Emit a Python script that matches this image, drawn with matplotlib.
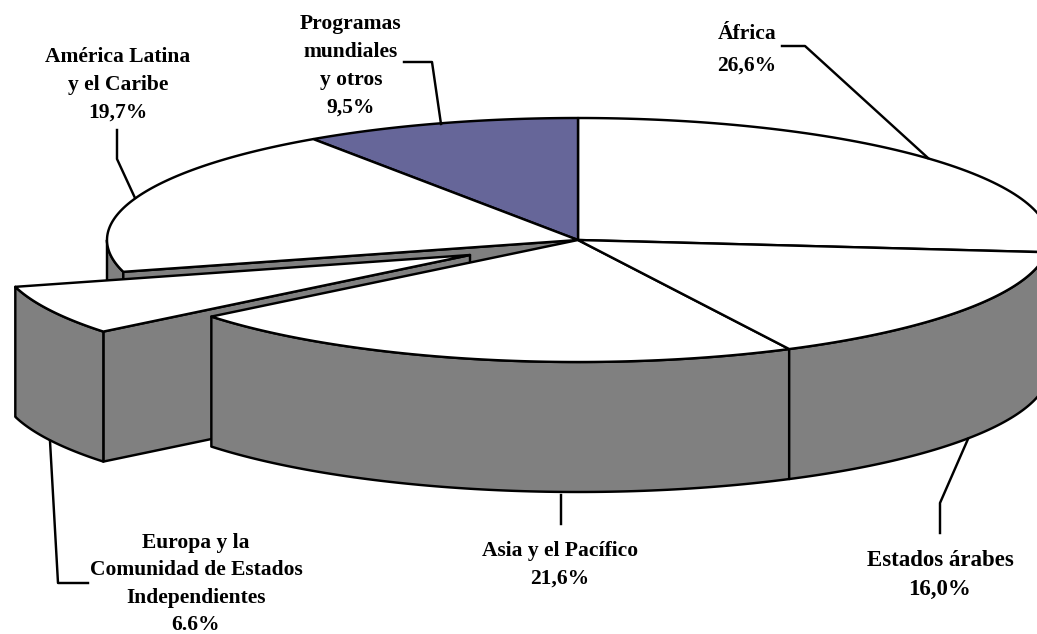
import numpy as np
import matplotlib
matplotlib.use("Agg")
import matplotlib.pyplot as plt
from matplotlib.patches import Polygon

plt.rcParams['font.family'] = ['Liberation Serif', 'DejaVu Serif']

# Data, clockwise from 12 o'clock
regions = ["Africa", "Arabes", "Asia", "Europa", "America", "Programas"]
shares = [26.6, 16.0, 21.6, 6.6, 19.7, 9.5]
labels = ["África\n26,6%", "Estados árabes\n16,0%", "Asia y el Pacífico\n21,6%",
          "Europa y la\nComunidad de Estados\nIndependientes\n6.6%",
          "América Latina\ny el Caribe\n19,7%", "Programas\nmundiales\ny otros\n9,5%"]

# Pie geometry in pixels
cx, cy = 578, 240
rx, ry = 471, 122
depth = 130
explode = {"Europa": (-108, 15)}
GREY = "#808080"
PURPLE = "#666699"
LW = 1.75

edges = np.cumsum([0] + shares) / 100 * 2 * np.pi
angles = {r: (edges[i], edges[i + 1]) for i, r in enumerate(regions)}

fig = plt.figure(figsize=(10.37, 6.34), dpi=100)
ax = fig.add_axes([0, 0, 1, 1])
ax.set_xlim(0, 1037)
ax.set_ylim(634, 0)
ax.axis("off")


def arc(a0, a1, dx=0, dy=0):
    t = np.linspace(a0, a1, 80)
    return np.column_stack([cx + dx + rx * np.sin(t), cy + dy - ry * np.cos(t)])


def face(pts, color, z):
    ax.add_patch(Polygon(pts, closed=True, facecolor=color, edgecolor="black",
                         linewidth=LW, joinstyle="round", zorder=z))


def top(region, color, z):
    dx, dy = explode.get(region, (0, 0))
    a0, a1 = angles[region]
    centre = [[cx + dx, cy + dy]]
    face(np.vstack([centre, arc(a0, a1, dx, dy)]), color, z)


def side(a0, a1, z, dx=0, dy=0):
    p = arc(a0, a1, dx, dy)
    face(np.vstack([p, (p + [0, depth])[::-1]]), GREY, z)


def cut(a, z, dx=0, dy=0):
    p = arc(a, a, dx, dy)[0]
    c = np.array([cx + dx, cy + dy])
    face([c, p, p + [0, depth], c + [0, depth]], GREY, z)


# back slices first
top("Africa", "white", 2)
top("Programas", PURPLE, 2)
side(angles["America"][0], 1.5 * np.pi, 1)
cut(angles["America"][0], 1)
top("America", "white", 2)

# pulled out slice
ex, ey = explode["Europa"]
cut(angles["Europa"][0], 3, ex, ey)
side(angles["Europa"][0], angles["Europa"][1], 3, ex, ey)
top("Europa", "white", 4)

# front slices
side(angles["Asia"][0], angles["Asia"][1], 5)
side(angles["Arabes"][0], angles["Arabes"][1], 5)
top("Asia", "white", 5)
top("Arabes", "white", 5)

# Leader lines
leaders = [
    ([782, 805, 928], [46, 46, 158]),
    ([940, 940, 968], [533, 503, 439]),
    ([561, 561], [524, 495]),
    ([88, 58, 50], [583, 583, 441]),
    ([117, 117, 135], [130, 159, 198]),
    ([404, 432, 441], [62, 62, 124]),
]
for xs, ys in leaders:
    ax.plot(xs, ys, color="black", linewidth=LW, zorder=6)

# Labels: x, y, font size, line spacing
label_pos = [(747, 50, 15.5, 1.8), (940, 575, 16.5, 1.55), (560, 565, 15.5, 1.5),
             (196, 584, 15.5, 1.5), (118, 85, 15.5, 1.52), (351, 66, 15.5, 1.52)]
for txt, (x, y, fs, sp) in zip(labels, label_pos):
    ax.text(x, y, txt, ha="center", va="center", fontsize=fs, fontweight="bold",
            linespacing=sp, color="black", zorder=7)

plt.savefig("out.png", dpi=100)
